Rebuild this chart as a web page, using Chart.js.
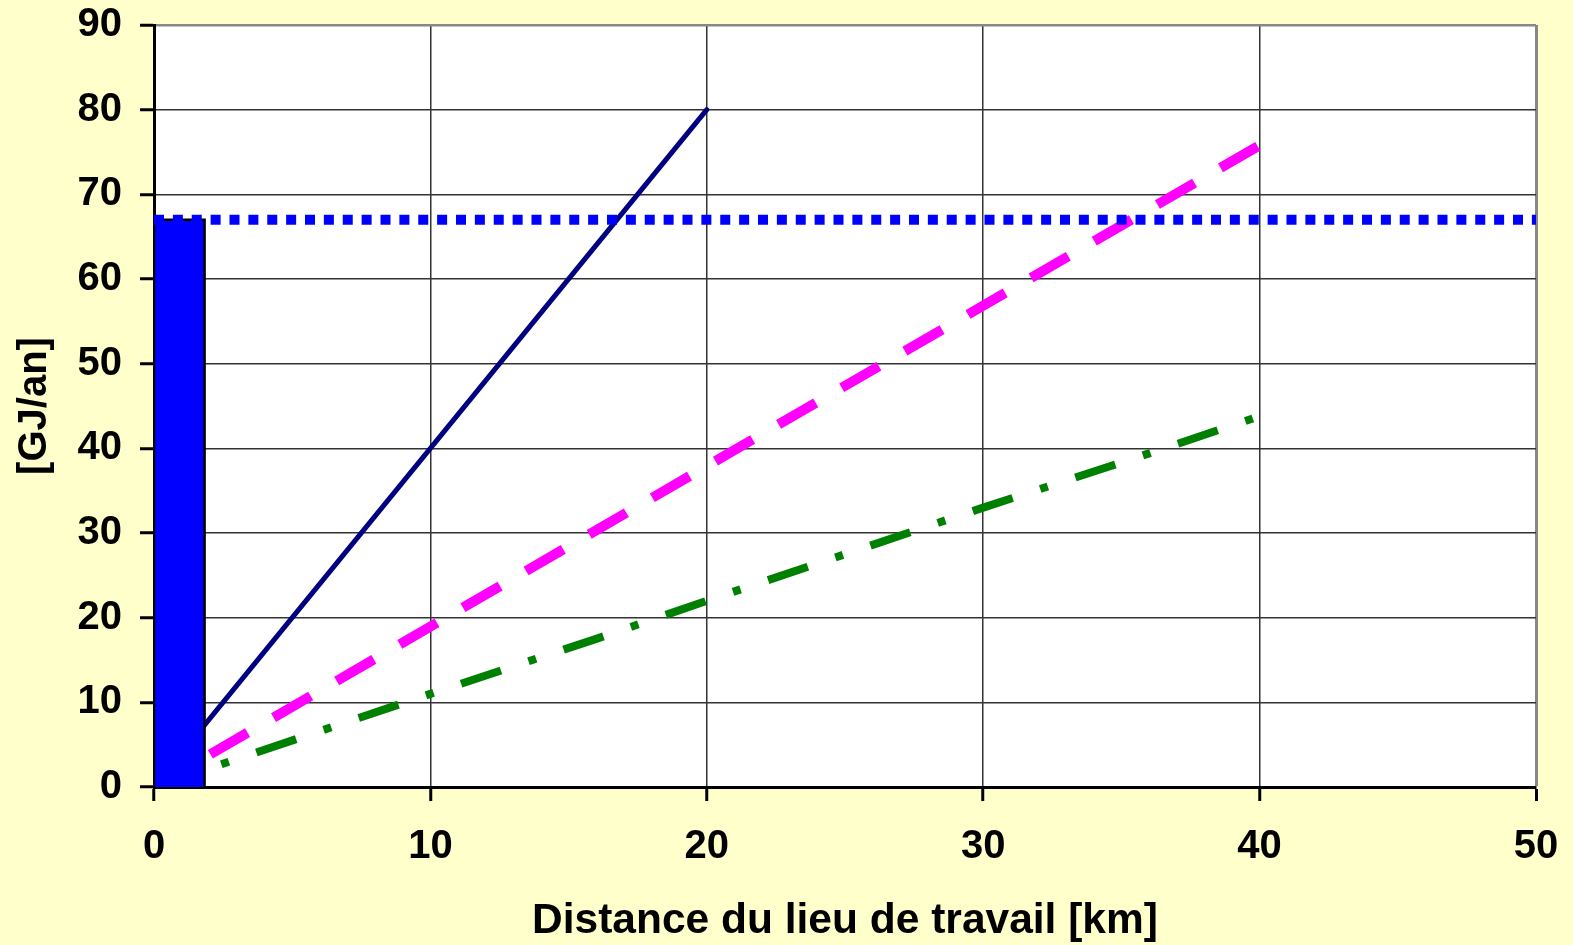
<!DOCTYPE html>
<html>
<head>
<meta charset="utf-8">
<script src="https://cdn.jsdelivr.net/npm/chart.js@4/dist/chart.umd.min.js"></script>
<style>
  html, body { margin: 0; padding: 0; background: #FFFFCC; }
  canvas { display: block; }
</style>
</head>
<body>
<canvas id="c" width="1573" height="945"></canvas>
<script>
// ---- data ----
const xTicks = [0, 10, 20, 30, 40, 50];
const yTicks = [0, 10, 20, 30, 40, 50, 60, 70, 80, 90];

const barX = [0, 0, 1.83, 1.83];
const barY = [0, 67, 67, 0];

const refX = [0, 50];
const refY = [67, 67];

const navyX = [0, 20];
const navyY = [0, 80];

const magentaX = [0, 40];
const magentaY = [0, 75.8];

const greenX = [0, 10, 16, 20, 30, 36, 40];
const greenY = [0, 11, 17.5, 22, 33, 39.4, 43.8];

const xTitle = 'Distance du lieu de travail [km]';
const yTitle = '[GJ/an]';

function pts(xs, ys) { return xs.map((x, i) => ({ x: x, y: ys[i] })); }

const FONT = '"Liberation Sans", Arial, sans-serif';

const bgPlugin = {
  id: 'bg',
  beforeDraw(chart) {
    const { ctx, chartArea: a } = chart;
    ctx.save();
    ctx.fillStyle = '#FFFFCC';
    ctx.fillRect(0, 0, chart.width, chart.height);
    ctx.fillStyle = '#FFFFFF';
    ctx.fillRect(a.left, a.top, a.right - a.left, a.bottom - a.top);
    ctx.restore();
  }
};

new Chart(document.getElementById('c'), {
  type: 'scatter',
  data: {
    datasets: [
      {
        label: 'green', data: pts(greenX, greenY), showLine: true, order: 5,
        borderColor: '#008000', borderWidth: 8, borderDash: [42, 29, 8, 29], borderDashOffset: 0,
        pointRadius: 0, fill: false
      },
      {
        label: 'magenta', data: pts(magentaX, magentaY), showLine: true, order: 4,
        borderColor: '#FF00FF', borderWidth: 10, borderDash: [43, 30], borderDashOffset: 7.8,
        pointRadius: 0, fill: false
      },
      {
        label: 'navy', data: pts(navyX, navyY), showLine: true, order: 3,
        borderColor: '#000080', borderWidth: 5, borderCapStyle: 'round',
        pointRadius: 0, fill: false
      },
      {
        label: 'bar', data: pts(barX, barY), showLine: true, order: 2,
        borderColor: '#000000', borderWidth: 2.5, backgroundColor: '#0000FF',
        pointRadius: 0, fill: 'origin'
      },
      {
        label: 'ref', data: pts(refX, refY), showLine: true, order: 1,
        borderColor: '#0000FF', borderWidth: 10, borderDash: [10, 8.875], borderCapStyle: 'butt',
        pointRadius: 0, fill: false
      }
    ]
  },
  options: {
    responsive: false,
    animation: false,
    devicePixelRatio: 1,
    layout: { padding: { top: 25, right: 37, left: 0, bottom: 0 } },
    plugins: { legend: { display: false }, tooltip: { enabled: false } },
    scales: {
      x: {
        type: 'linear', min: 0, max: 50,
        afterFit(s) { s.height = 158; s.paddingLeft = 0; s.paddingRight = 0; },
        afterBuildTicks(s) { s.ticks = xTicks.map(v => ({ value: v })); },
        ticks: {
          color: '#000', padding: 22,
          font: { family: FONT, size: 40, weight: 'bold', lineHeight: 1.2 }
        },
        grid: {
          color: (c) => c.tick && c.tick.value === 50 ? '#888888' : '#333333',
          lineWidth: (c) => c.tick && c.tick.value === 50 ? 3 : 1.5,
          tickColor: '#000', tickLength: 14, tickWidth: 3
        },
        border: { display: true, color: '#000', width: 3 },
        title: {
          display: true, text: xTitle, color: '#000',
          font: { family: FONT, size: 42.5, weight: 'bold', lineHeight: 1.1 },
          padding: { top: 0, bottom: 0 }
        }
      },
      y: {
        type: 'linear', min: 0, max: 90,
        afterFit(s) { s.width = 154; s.paddingTop = 0; s.paddingBottom = 0; },
        afterBuildTicks(s) { s.ticks = yTicks.map(v => ({ value: v })); },
        ticks: {
          color: '#000', padding: 18,
          font: { family: FONT, size: 40, weight: 'bold', lineHeight: 1.2 }
        },
        grid: {
          color: (c) => c.tick && c.tick.value === 90 ? '#888888' : '#333333',
          lineWidth: (c) => c.tick && c.tick.value === 90 ? 2.5 : 1.5,
          tickColor: '#000', tickLength: 14, tickWidth: 3
        },
        border: { display: true, color: '#000', width: 3 },
        title: {
          display: true, text: yTitle, color: '#000',
          font: { family: FONT, size: 40, weight: 'bold', lineHeight: 1.2 },
          padding: { top: 11, bottom: 0 }
        }
      }
    }
  },
  plugins: [bgPlugin]
});
</script>
</body>
</html>
